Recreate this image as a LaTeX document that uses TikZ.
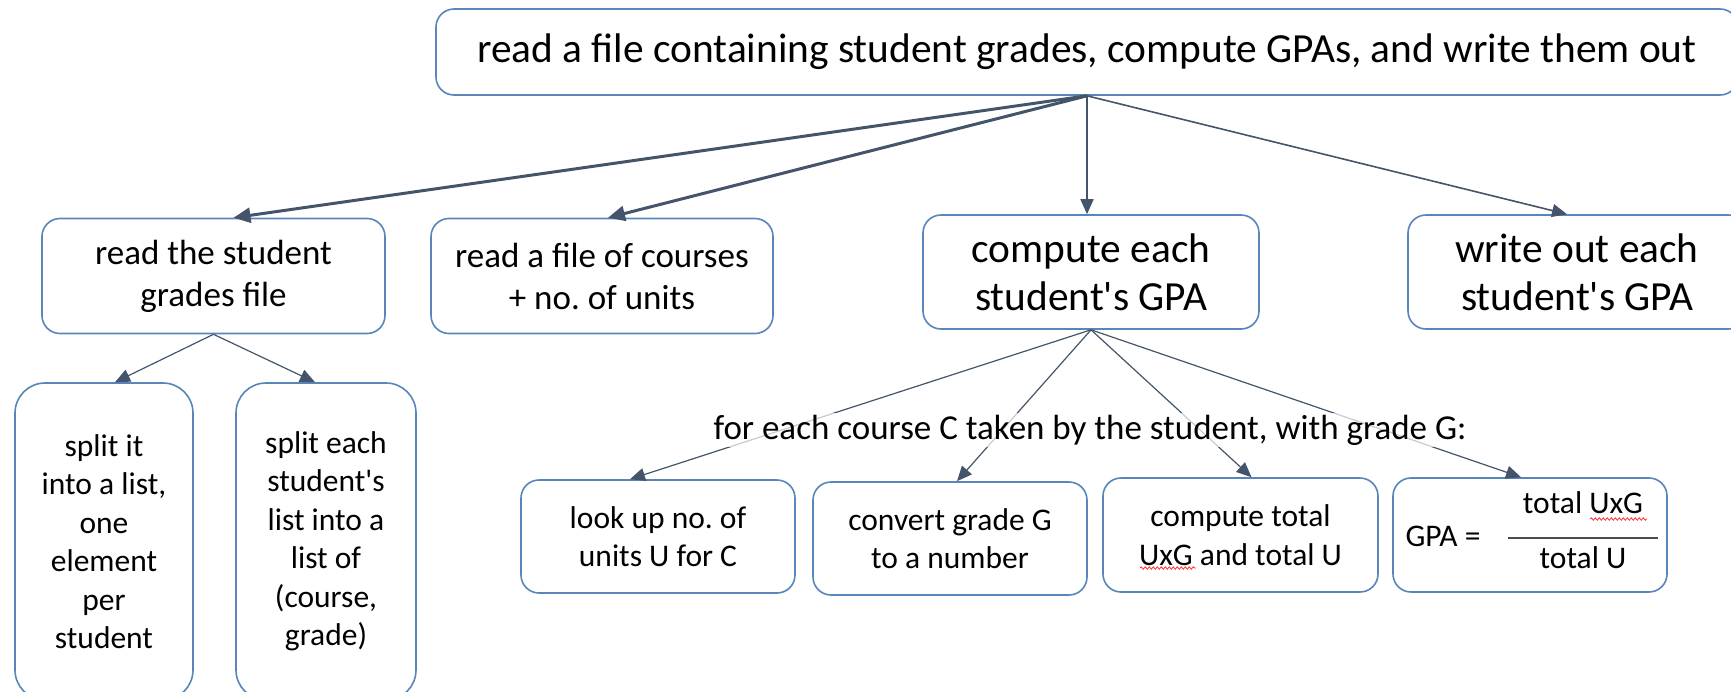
\documentclass[tikz,border=0pt]{standalone}
\usepackage{fontspec}
\setmainfont{Carlito}
\usetikzlibrary{arrows.meta,decorations.pathmorphing}
\definecolor{boxline}{RGB}{88,133,186}
\definecolor{arrowline}{RGB}{68,84,106}
\frenchspacing
\begin{document}
\begin{tikzpicture}[x=1pt,y=-1pt,
		box/.style={draw=boxline, line width=1.6pt, rounded corners=18pt, fill=white, align=center, inner sep=0pt},
		tallbox/.style={box, rounded corners=30pt},
		link/.style={draw=arrowline, line width=1.6pt, -{Triangle[length=15pt,width=13pt]}},
		thicklink/.style={link, line width=3pt, -{Triangle[length=17pt,width=15pt]}},
		smalllink/.style={link, line width=1.2pt},
		bigtext/.style={font=\fontsize{41.4}{48}\selectfont},
		midtext/.style={font=\fontsize{35}{42}\selectfont},
		smalltext/.style={font=\fontsize{31.5}{38.5}\selectfont},
		squig/.style={draw=red!80, line width=0.8pt, decorate, decoration={snake, amplitude=1.2pt, segment length=4pt}}]
		\newcommand{\apos}{\textquotesingle}
		\useasboundingbox (0,0) rectangle (1731,691);
		\clip (0,0) rectangle (1731,691);
		%Top task
		\node [box, bigtext, minimum width=1302pt, minimum height=86pt] (top) at (1087,52) {read a file containing student grades, compute GPAs, and write them out};
		%Second row
		\node [box, midtext, minimum width=343pt, minimum height=115pt] (rdstud) at (213.5,276) {read the student\\grades file};
		\node [box, midtext, minimum width=342pt, minimum height=115pt] (rdcourse) at (602,276) {read a file of courses\\+ no. of units};
		\node [box, bigtext, minimum width=336pt, minimum height=114pt] (compgpa) at (1091,272) {compute each\\student\apos s GPA};
		\node [box, bigtext, minimum width=338pt, minimum height=114pt] (writegpa) at (1577,272) {write out each\\student\apos s GPA};
		%Splitting the grades file
		\node [tallbox, smalltext, minimum width=178pt, minimum height=317pt] (split1) at (104,541.5) {split it\\into a list,\\one\\element\\per\\student};
		\node [tallbox, smalltext, minimum width=180pt, minimum height=317pt] (split2) at (326,541.5) {split each\\student\apos s\\list into a\\list of\\(course,\\grade)};
		%Steps per course
		\node [box, smalltext, minimum width=274pt, minimum height=113pt] (lookup) at (658,536.5) {look up no. of\\units U for C};
		\node [box, smalltext, minimum width=274pt, minimum height=113pt] (convert) at (950,538.5) {convert grade G\\to a number};
		\node [box, smalltext, minimum width=275pt, minimum height=114pt] (comptot) at (1240.5,535) {compute total\\UxG and total U};
		\node [box, minimum width=274pt, minimum height=114pt] (gpaeq) at (1530,535) {};
		%The fraction
		\node [smalltext] (gpalhs) at (1443,536) {GPA =};
		\node [smalltext] (gpanum) at (1583,503) {total UxG};
		\node [smalltext] (gpaden) at (1583,558) {total U};
		\coordinate (barL) at (1508,538);
		\coordinate (barR) at (1658,538);
		\draw [line width=2pt, black!70] (barL) -- (barR);
		%Spell check marks
		\draw [squig] (1590,519) -- (1647,519);
		\draw [squig] (1140,568) -- (1196,568);
		%Arrows from the top
		\draw [thicklink] (top.south) -- ([xshift=20pt]rdstud.north);
		\draw [thicklink] (top.south) -- ([xshift=6pt]rdcourse.north);
		\draw [link] (top.south) -- ([xshift=-4pt]compgpa.north);
		\draw [link] (top.south) -- ([xshift=-10pt]writegpa.north);
		%Arrows to the split boxes
		\draw [smalllink] (rdstud.south) -- ([xshift=11pt]split1.north);
		\draw [smalllink] (rdstud.south) -- ([xshift=-11pt]split2.north);
		%Arrows to the course steps
		\draw [smalllink] (compgpa.south) -- ([xshift=-28pt]lookup.north);
		\draw [smalllink] (compgpa.south) -- ([xshift=7pt]convert.north);
		\draw [smalllink] (compgpa.south) -- ([xshift=11pt]comptot.north);
		\draw [smalllink] (compgpa.south) -- ([xshift=-9pt]gpaeq.north);
		%Label over the arrows
		\node [midtext, fill=white, fill opacity=0.7, text opacity=1, inner sep=2pt] (forlabel) at (1090,430) {for each course C taken by the student, with grade G:};
\end{tikzpicture}
\end{document}
